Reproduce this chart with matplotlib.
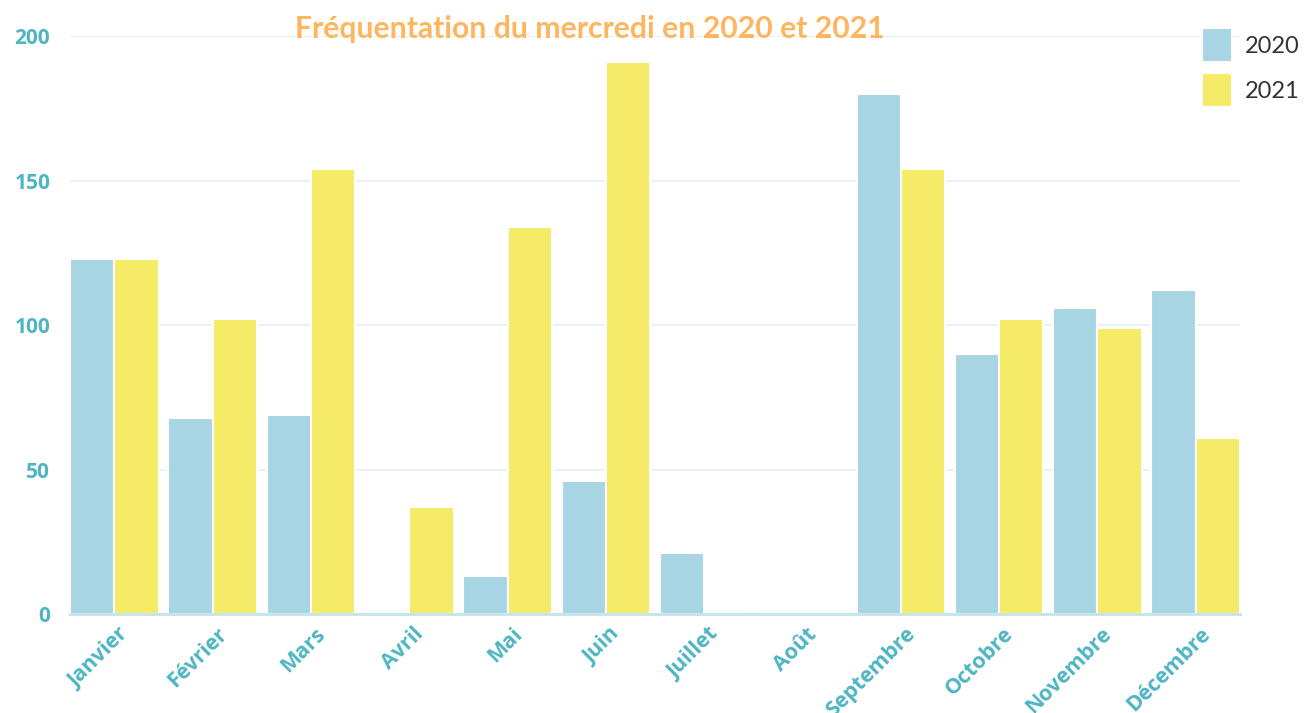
import numpy as np
import matplotlib.pyplot as plt
import matplotlib.transforms as mtransforms

############### Data ###############
months = ["Janvier", "Février", "Mars", "Avril", "Mai", "Juin", "Juillet",
          "Août", "Septembre", "Octobre", "Novembre", "Décembre"]
values_2020 = [123, 68, 69, 0, 13, 46, 21, 0, 180, 90, 106, 112]
values_2021 = [123, 102, 154, 37, 134, 191, 0, 0, 154, 102, 99, 61]
yticks = [0, 50, 100, 150, 200]

c2020 = "#a8d5e3"
c2021 = "#f5eb66"
teal = "#4fb5c2"

############### Plot ###############
fig = plt.figure(figsize=(13.14, 7.13), dpi=100)
ax = fig.add_axes([0.053, 0.139, 0.891, 0.810])

x = np.arange(len(months))
w = 0.45
ax.bar(x - w / 2, values_2020, width=w, color=c2020, edgecolor="white",
       linewidth=1.5, label="2020", zorder=2)
ax.bar(x + w / 2, values_2021, width=w, color=c2021, edgecolor="white",
       linewidth=1.5, label="2021", zorder=2)

ax.set_xlim(-0.455, 11.455)
ax.set_ylim(0, 200)
ax.set_yticks(yticks)
ax.yaxis.grid(True, color="#e1f0f5", linewidth=1.2, zorder=0)
ax.set_axisbelow(True)

for s in ["top", "right", "left"]:
    ax.spines[s].set_visible(False)
ax.spines["bottom"].set_color("#c3e4ec")
ax.spines["bottom"].set_linewidth(2)
ax.tick_params(axis="both", length=0)
ax.tick_params(axis="y", pad=14)

ax.set_yticklabels([str(v) for v in yticks], color=teal, fontsize=15,
                   fontweight="bold", family="Open Sans")
ax.set_xticks(x)
ax.set_xticklabels(months, rotation=45, ha="right", rotation_mode="anchor",
                   color=teal, fontsize=15.5, fontweight="bold", family="Open Sans")
# labels end a little right of the group centre
offset = mtransforms.ScaledTranslation(4 / 100, -5 / 100, fig.dpi_scale_trans)
for lab in ax.get_xticklabels():
    lab.set_transform(lab.get_transform() + offset)

fig.text(0.449, 0.96, "Fréquentation du mercredi en 2020 et 2021", ha="center",
         va="center", color="#ffb55e", fontsize=21.7, fontweight="bold", family="Lato")

leg = fig.legend(loc="upper left", bbox_to_anchor=(0.8985, 0.99), frameon=False,
                 handlelength=1.27, handleheight=1.84,
                 labelspacing=0.45, handletextpad=0.55,
                 prop={"family": "Lato", "size": 17})
for t in leg.get_texts():
    t.set_color("#333333")

fig.savefig("out.png", dpi=100)
